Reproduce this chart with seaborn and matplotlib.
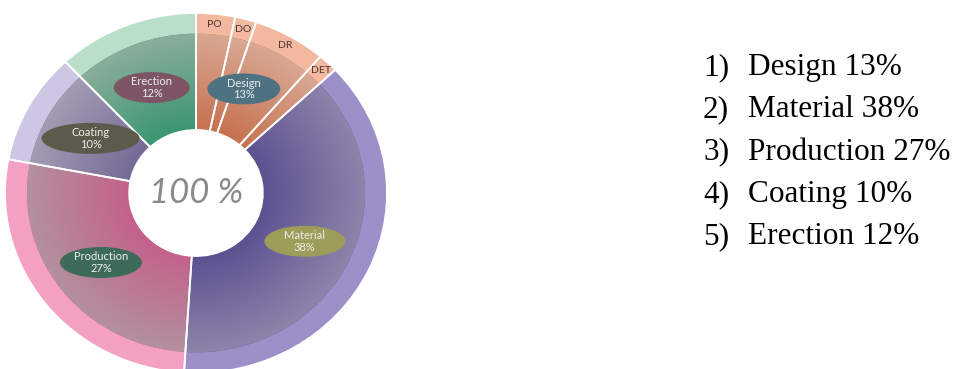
import numpy as np
import matplotlib
matplotlib.use("Agg")
import matplotlib.pyplot as plt
from matplotlib.patches import Ellipse
from matplotlib.colors import to_rgb
import seaborn as sns

sns.set_theme(style="white")
plt.rcParams["font.family"] = ["Lato", "DejaVu Sans"]

# ---- data -------------------------------------------------------------
categories = ["Design", "Material", "Production", "Coating", "Erection"]
shares = [13, 38, 27, 10, 12]
design_parts = ["PO", "DO", "DR", "DET"]
design_part_shares = [3.3, 1.8, 6.2, 1.7]
total_label = "100 %"
list_numbers = ["1)", "2)", "3)", "4)", "5)"]

# ---- styling ----------------------------------------------------------
band_colors = {"Design": "#f2b9a0", "Material": "#9d90c9", "Production": "#f3a0c2",
               "Coating": "#cdc7e3", "Erection": "#b9dfca"}
inner_colors = {"Design": "#c6714e", "Material": "#5c5190", "Production": "#c4618b",
                "Coating": "#756a96", "Erection": "#3a9670"}
outer_colors = {"Design": "#d8a893", "Material": "#8d84ab", "Production": "#b3909f",
                "Coating": "#a29db3", "Erection": "#8aae9b"}
tag_colors = {"Design": "#4e7282", "Material": "#9d9c58", "Production": "#3d6b58",
              "Coating": "#5b5a4b", "Erection": "#7d5567"}
tag_width_px = {"Design": 73, "Material": 81, "Production": 82, "Coating": 98, "Erection": 76}

W, H, DPI = 954, 369, 100
fig = plt.figure(figsize=(W / DPI, H / DPI), dpi=DPI)
fig.patch.set_facecolor("white")

# pie axes: 382 x 360 px box, so the donut is slightly wider than tall
AX_W, AX_H = 382, 360
ax = fig.add_axes([5 / W, (H - 373) / H, AX_W / W, AX_H / H])
px_x, px_y = AX_W / 2, AX_H / 2   # pixels per data unit

HOLE, INNER = 0.35, 0.885
ring_values = design_part_shares + shares[1:]
ring_groups = ["Design"] * len(design_parts) + categories[1:]
n = len(ring_values)
pie_kw = dict(startangle=90, counterclock=False, normalize=True)

# light outer band
ax.pie(ring_values, radius=1.0, colors=[band_colors[g] for g in ring_groups],
       wedgeprops=dict(width=1 - HOLE, linewidth=0), **pie_kw)
# inner body, later shaded with a radial gradient
inner_wedges, _ = ax.pie(ring_values, radius=INNER,
                         colors=[inner_colors[g] for g in ring_groups],
                         wedgeprops=dict(width=INNER - HOLE, linewidth=0), **pie_kw)

N = 500
gx, gy = np.meshgrid(np.linspace(-1, 1, N), np.linspace(-1, 1, N))
rr = np.sqrt(gx ** 2 + gy ** 2)
t = np.clip((rr - HOLE) / (INNER - HOLE), 0, 1)[..., None]
for wedge, g in zip(inner_wedges, ring_groups):
    c0 = np.array(to_rgb(inner_colors[g]))
    c1 = np.array(to_rgb(outer_colors[g]))
    img = c0 * (1 - t) + c1 * t
    im = ax.imshow(img, extent=(-1, 1, -1, 1), origin="lower", aspect="auto",
                   interpolation="bilinear", zorder=1.5)
    im.set_clip_path(wedge)

# white separators
ax.pie(ring_values, radius=1.0, colors=["none"] * n,
       wedgeprops=dict(width=1 - HOLE, edgecolor="white", linewidth=1.3,
                       fill=False, zorder=2), **pie_kw)

total = sum(shares)

# category tags
cum = np.cumsum(shares)
for cat, val, c in zip(categories, shares, cum):
    ang = np.deg2rad(90 - 360 * (c - val / 2) / total)
    x, y = 0.63 * np.cos(ang), 0.63 * np.sin(ang)
    ax.add_patch(Ellipse((x, y), tag_width_px[cat] / px_x, 31 / px_y,
                         facecolor=tag_colors[cat], edgecolor="none", zorder=3))
    ax.text(x, y, f"{cat}\n{val}%", ha="center", va="center", fontsize=8,
            color="#eeeeee", linespacing=1.05, zorder=4)

# design sub-part labels in the outer band
pcum = np.cumsum(design_part_shares)
for name, val, c in zip(design_parts, design_part_shares, pcum):
    ang = np.deg2rad(90 - 360 * (c - val / 2) / total)
    ax.text(0.943 * np.cos(ang), 0.943 * np.sin(ang), name, ha="center", va="center",
            fontsize=7.5, color="#4a3530", zorder=4)

ax.text(0, 0, total_label, ha="center", va="center", fontsize=25, style="italic",
        fontweight="normal", color="#8a8a8a", zorder=4)

ax.set_xlim(-1, 1)
ax.set_ylim(-1, 1)
ax.set_aspect("auto")
ax.axis("off")

# numbered list on the right
for i, (num, cat, val) in enumerate(zip(list_numbers, categories, shares)):
    yb = 75 + i * 42.3
    fig.text(703 / W, 1 - yb / H, num, ha="left", va="baseline",
             fontsize=22.5, family="Liberation Serif", color="black")
    fig.text(748 / W, 1 - yb / H, f"{cat} {val}%", ha="left", va="baseline",
             fontsize=22.5, family="Liberation Serif", color="black")

fig.savefig("out.png", dpi=DPI, facecolor="white")
